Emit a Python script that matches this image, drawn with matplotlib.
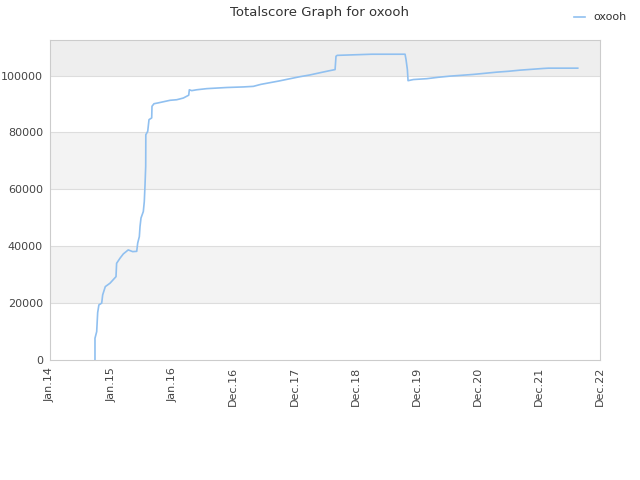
import matplotlib
matplotlib.use("Agg")
import matplotlib.pyplot as plt
from matplotlib.lines import Line2D

# x = years since Jan 2014
years = [0.736, 0.736, 0.764, 0.78, 0.80, 0.846, 0.862, 0.905, 0.982, 1.08, 1.09,
         1.146, 1.2, 1.28, 1.353, 1.419, 1.435, 1.462, 1.473, 1.489, 1.527, 1.543,
         1.555, 1.566, 1.568, 1.599, 1.62, 1.664, 1.669, 1.702, 1.773, 1.964, 2.074,
         2.182, 2.27, 2.28, 2.319, 2.4, 2.565, 2.892, 3.164, 3.327, 3.45, 3.6, 3.75,
         3.93, 4.09, 4.25, 4.42, 4.55, 4.665, 4.68, 4.70, 5.265, 5.81, 5.826, 5.848,
         5.859, 5.946, 6.165, 6.356, 6.547, 6.738, 6.928, 7.119, 7.311, 7.5, 7.692,
         7.884, 8.074, 8.156, 8.636]
scores = [0, 7640, 9970, 16650, 19370, 20000, 22900, 25800, 27000, 29300, 34000,
          35800, 37300, 38700, 38100, 38200, 41100, 43400, 46900, 49900, 52200, 55700,
          61600, 68100, 79200, 80400, 84500, 85100, 89200, 90100, 90400, 91300, 91500,
          92100, 93100, 95000, 94700, 95000, 95400, 95800, 96000, 96200, 96900, 97500, 98100,
          98900, 99600, 100200, 101000, 101600, 102100, 106800, 107100, 107500, 107500, 105600, 102100,
          98200, 98600, 98900, 99400, 99800, 100100, 100400, 100800, 101200, 101500, 101900,
          102200, 102500, 102600, 102600]
tick_labels = ["Jan.14", "Jan.15", "Jan.16", "Dec.16", "Dec.17", "Dec.18",
               "Dec.19", "Dec.20", "Dec.21", "Dec.22"]
series_name = "oxooh"

fig = plt.figure(figsize=(6.4, 4.8), dpi=100)
ax = fig.add_axes([50/640, 120/480, 550/640, 320/480])
ymax = 112500
ax.set_xlim(0, 9)
ax.set_ylim(0, ymax)

bands = [(0, 20000, "white"), (20000, 40000, "#f3f3f3"), (40000, 60000, "white"),
         (60000, 80000, "#f3f3f3"), (80000, 100000, "white"), (100000, ymax, "#eeeeee")]
for lo, hi, c in bands:
    ax.axhspan(lo, hi, color=c, zorder=0, lw=0)
for v in range(20000, 100001, 20000):
    ax.axhline(v, color="#dddddd", lw=0.8, zorder=1)

ax.plot(years, scores, color="#90c0f0", lw=1.2, zorder=3)

ax.set_xticks(range(len(tick_labels)))
ax.set_xticklabels(tick_labels, rotation=90)
ax.set_yticks(range(0, 100001, 20000))
ax.tick_params(length=0, labelsize=8, colors="#444444", pad=5)
for s in ax.spines.values():
    s.set_color("#cccccc")

fig.text(0.5, 0.988, "Totalscore Graph for oxooh", ha="center", va="top",
         fontsize=9.5, color="#333333")
fig.legend(handles=[Line2D([], [], color="#90c0f0", lw=1.2)], labels=[series_name],
           loc="upper right", bbox_to_anchor=(0.995, 0.995), frameon=False,
           fontsize=8, handlelength=1.0, labelcolor="#333333")

fig.savefig("out.png", dpi=100)
